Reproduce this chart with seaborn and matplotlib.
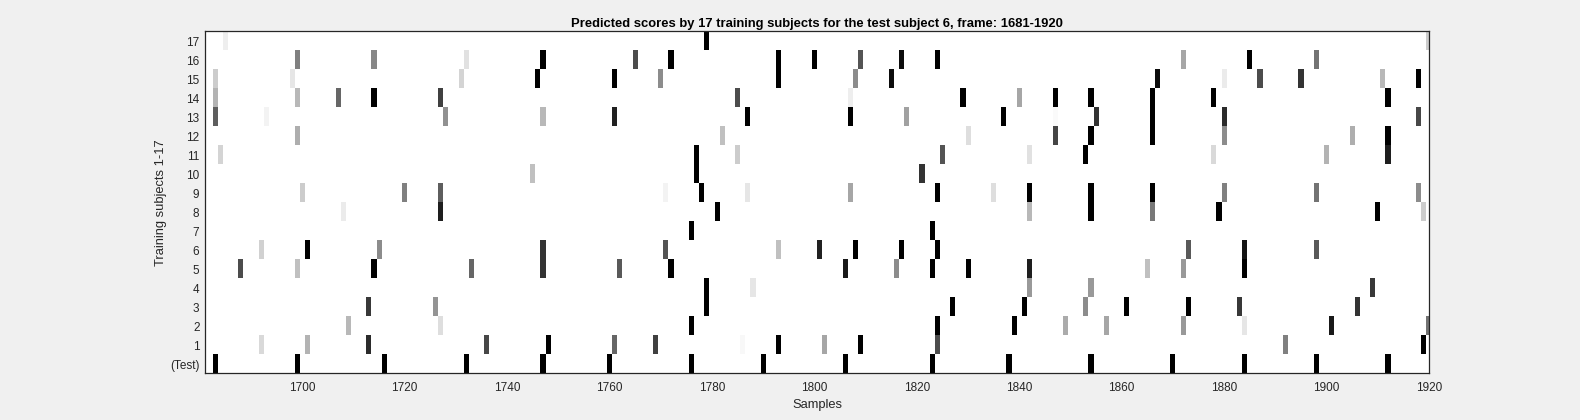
import numpy as np
import pandas as pd
import matplotlib
matplotlib.use("Agg")
import matplotlib.pyplot as plt
from matplotlib.transforms import ScaledTranslation
import seaborn as sns

TITLE = "Predicted scores by 17 training subjects for the test subject 6, frame: 1681-1920"
X_LABEL = "Samples"
Y_LABEL = "Training subjects 1-17"
FIRST_SAMPLE = 1681
LAST_SAMPLE = 1920
X_TICKS = [1700, 1720, 1740, 1760, 1780, 1800, 1820, 1840, 1860, 1880, 1900, 1920]
ROW_LABELS = ["17", "16", "15", "14", "13", "12", "11", "10", "9", "8", "7", "6", "5", "4", "3", "2", "1", "(Test)"]

# Each row: (sample, displayed grey level) with 0 = black and 1 = white
row_17 = [(1685, .93), (1779, 0), (1920, .8)]
row_16 = [(1699, .5), (1714, .53), (1732, .88), (1747, 0), (1765, .3), (1772, 0), (1793, 0), (1800, 0),
          (1809, .33), (1817, .05), (1824, 0), (1872, .65), (1885, 0), (1898, .45)]
row_15 = [(1683, .8), (1698, .9), (1731, .83), (1746, 0), (1761, 0), (1770, .55), (1793, 0), (1808, .55),
          (1815, .05), (1867, .05), (1880, .92), (1887, .3), (1895, .2), (1911, .72), (1918, 0)]
row_14 = [(1683, .7), (1699, .72), (1707, .4), (1714, 0), (1727, .25), (1785, .3), (1807, .93), (1829, 0),
          (1840, .65), (1847, 0), (1854, 0), (1866, 0), (1878, 0), (1912, 0)]
row_13 = [(1683, .37), (1693, .95), (1728, .57), (1747, .72), (1761, .13), (1787, 0), (1807, 0), (1818, .63),
          (1837, 0), (1847, .98), (1855, .2), (1866, 0), (1880, .17), (1918, .28)]
row_12 = [(1699, .68), (1782, .75), (1830, .87), (1847, .27), (1854, 0), (1866, 0), (1880, .55), (1905, .68), (1912, 0)]
row_11 = [(1684, .83), (1777, 0), (1785, .8), (1825, .33), (1842, .88), (1853, 0), (1878, .85), (1900, .7), (1912, .12)]
row_10 = [(1745, .75), (1777, 0), (1821, .2)]
row_9 = [(1700, .8), (1720, .5), (1727, .37), (1771, .95), (1778, 0), (1787, .9), (1807, .65), (1824, 0),
         (1835, .87), (1842, 0), (1854, 0), (1866, 0), (1880, .5), (1898, .45), (1918, .55)]
row_8 = [(1708, .92), (1727, .12), (1781, 0), (1842, .72), (1854, 0), (1866, .47), (1879, 0), (1910, 0), (1919, .8)]
row_7 = [(1776, 0), (1823, 0)]
row_6 = [(1692, .82), (1701, 0), (1715, .55), (1747, .2), (1771, .33), (1793, .75), (1801, .13), (1808, 0),
         (1817, 0), (1824, 0), (1873, .35), (1884, .08), (1898, .35)]
row_5 = [(1688, .3), (1699, .75), (1714, 0), (1733, .4), (1747, .2), (1762, .35), (1772, 0), (1806, .1),
         (1816, .55), (1823, 0), (1830, 0), (1842, .12), (1865, .75), (1872, .6), (1884, 0)]
row_4 = [(1779, 0), (1788, .9), (1842, .6), (1854, .6), (1909, .22)]
row_3 = [(1713, .22), (1726, .58), (1779, 0), (1827, 0), (1841, 0), (1853, .55), (1861, 0), (1873, 0), (1883, .22), (1906, .2)]
row_2 = [(1709, .72), (1727, .87), (1776, 0), (1824, 0), (1839, 0), (1849, .67), (1857, .65), (1872, .6),
         (1884, .9), (1901, .1), (1920, .45)]
row_1 = [(1692, .85), (1701, .7), (1713, .17), (1736, .28), (1748, 0), (1761, .4), (1769, .25), (1786, .97),
         (1793, 0), (1802, .65), (1809, 0), (1824, .3), (1892, .5), (1919, 0)]
row_test = [(1683, 0), (1699, 0), (1716, 0), (1732, 0), (1747, 0), (1760, 0), (1776, 0), (1790, 0), (1806, 0),
            (1823, 0), (1838, 0), (1854, 0), (1870, 0), (1884, 0), (1898, 0), (1912, 0)]

rows = [row_17, row_16, row_15, row_14, row_13, row_12, row_11, row_10, row_9,
        row_8, row_7, row_6, row_5, row_4, row_3, row_2, row_1, row_test]

samples = np.arange(FIRST_SAMPLE, LAST_SAMPLE + 1)
table = pd.DataFrame(1.0, index=ROW_LABELS, columns=samples)
for label, row in zip(ROW_LABELS, rows):
    for sample, grey in row:
        table.loc[label, sample] = grey

BG = "#F0F0F0"
INK = "#262626"
plt.rcParams["font.family"] = ["Liberation Sans", "DejaVu Sans"]

W, H = 1580, 420
fig = plt.figure(figsize=(W / 100, H / 100), dpi=100, facecolor=BG)
left, right, top, bottom = 205.0, 1429.0, 31.3, 373.3
ax = fig.add_axes([left / W, 1 - bottom / H, (right - left) / W, (bottom - top) / H])

sns.heatmap(table, ax=ax, cmap="gray", vmin=0, vmax=1, cbar=False,
            xticklabels=False, yticklabels=True, linewidths=0, rasterized=True)

ax.set_xlim(0.5, len(samples) - 0.5)
ax.set_ylim(len(ROW_LABELS), 0)
ax.set_xticks([v - FIRST_SAMPLE + 0.5 for v in X_TICKS])
ax.set_xticklabels([str(v) for v in X_TICKS])
ax.set_yticks(np.arange(len(ROW_LABELS)) + 0.5)
ax.set_yticklabels(ROW_LABELS, rotation=0)
ax.tick_params(axis="both", length=0, labelsize=8.5, labelcolor=INK)
ax.tick_params(axis="x", pad=6)
ax.tick_params(axis="y", pad=4)
shift_down = ScaledTranslation(0, -2 / 72 * 0.72 * 100 / 100, fig.dpi_scale_trans)
for tick_label in ax.get_yticklabels():
    tick_label.set_transform(tick_label.get_transform() + shift_down)
for side in ax.spines.values():
    side.set_visible(True)
    side.set_color(INK)
    side.set_linewidth(0.9)

ax.set_xlabel(X_LABEL, fontsize=9.25, color=INK, labelpad=4)
ax.set_ylabel(Y_LABEL, fontsize=9.25, color=INK, labelpad=2)
ax.set_title(TITLE, fontsize=9.35, fontweight="bold", color="black", pad=3)

fig.savefig("out.png", dpi=100, facecolor=BG)
